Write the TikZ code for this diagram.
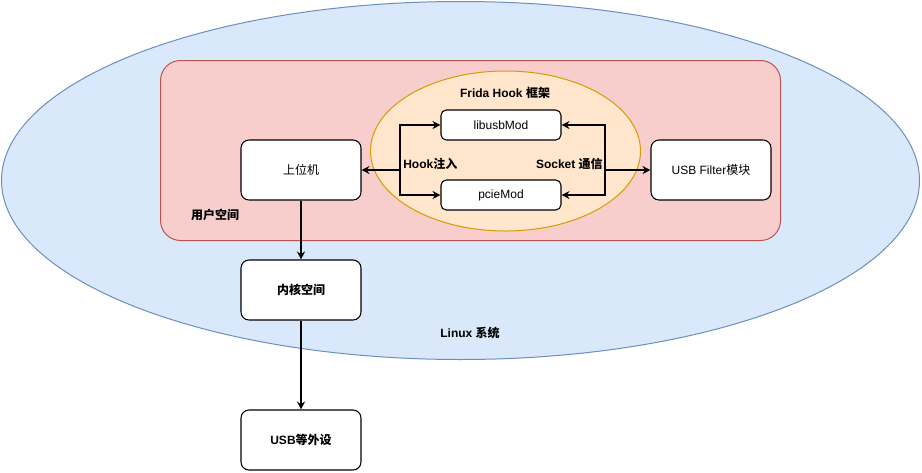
\documentclass[tikz,border=0pt]{standalone}
\usepackage{fontspec}
\setmainfont{Liberation Sans}
\newfontfamily\cjk{Noto Sans CJK SC}
\usetikzlibrary{positioning,arrows.meta,shapes.geometric}
\definecolor{linuxfill}{HTML}{DAE8FC}
\definecolor{linuxline}{HTML}{6C8EBF}
\definecolor{userfill}{HTML}{F8CECC}
\definecolor{userline}{HTML}{B85450}
\definecolor{fridafill}{HTML}{FFE6CC}
\definecolor{fridaline}{HTML}{D79B00}

\begin{document}
\begin{tikzpicture}[
			x=0.75pt, y=-0.75pt
			,every node/.append style={font=\fontsize{9}{11}\selectfont, inner sep=0pt}
			,box/.style={draw, fill=white, rounded corners=6pt, line width=0.8pt, minimum width=90pt, minimum height=45pt}
			,mod/.style={box, rounded corners=4pt, minimum height=22.5pt}
			,lbl/.style={font=\fontsize{9}{11}\selectfont\bfseries}
			,arr/.style={-{Stealth[length=6pt,width=6pt,inset=2pt]}, line width=0.8pt}
		]
			\useasboundingbox (0,0) rectangle (922,472);
			% Linux system
			\node [ellipse, draw=linuxline, fill=linuxfill, line width=0.75pt, minimum width=688.5pt, minimum height=268.5pt] (linux) at (460.5,180.5) {};
			% user space
			\node [draw=userline, fill=userfill, rounded corners=15pt, line width=0.75pt, minimum width=465pt, minimum height=135pt] (user) at (470.5,150.5) {};
			% frida
			\node [ellipse, draw=fridaline, fill=fridafill, line width=0.75pt, minimum width=202.5pt, minimum height=120pt] (frida) at (505.5,151) {};

			\node [lbl] (fridaLbl) at (505,93) {Frida Hook {\cjk\bfseries 框架}};
			\node [lbl] (userLbl) at (215,215) {\cjk\bfseries 用户空间};
			\node [lbl] (linuxLbl) at (470,333) {Linux {\cjk\bfseries 系统}};

			\node [box] (host) at (301,170) {\cjk 上位机};
			\node [mod] (libusb) at (501,125) {libusbMod};
			\node [mod] (pcie) at (501,195) {pcieMod};
			\node [box] (filter) at (711,170) {USB Filter{\cjk 模块}};
			\node [box] (kernel) at (301,290) {\cjk\bfseries 内核空间};
			\node [box] (usbdev) at (301,440) {\bfseries USB{\cjk\bfseries 等外设}};

			\coordinate (hookJ) at (400,170);
			\coordinate (sockJ) at (605,170);
			\node [lbl, anchor=west] (hookLbl) at (403,164) {Hook{\cjk\bfseries 注入}};
			\node [lbl, anchor=east] (sockLbl) at (603,164) {Socket {\cjk\bfseries 通信}};

			\draw [arr] (hookJ) |- (libusb.west);
			\draw [arr] (hookJ) |- (pcie.west);
			\draw [arr] (hookJ) -- (host.east);
			\draw [arr] (sockJ) |- (libusb.east);
			\draw [arr] (sockJ) |- (pcie.east);
			\draw [arr] (sockJ) -- (filter.west);
			\draw [arr] (host) -- (kernel);
			\draw [arr] (kernel) -- (usbdev);
		\end{tikzpicture}
\end{document}
